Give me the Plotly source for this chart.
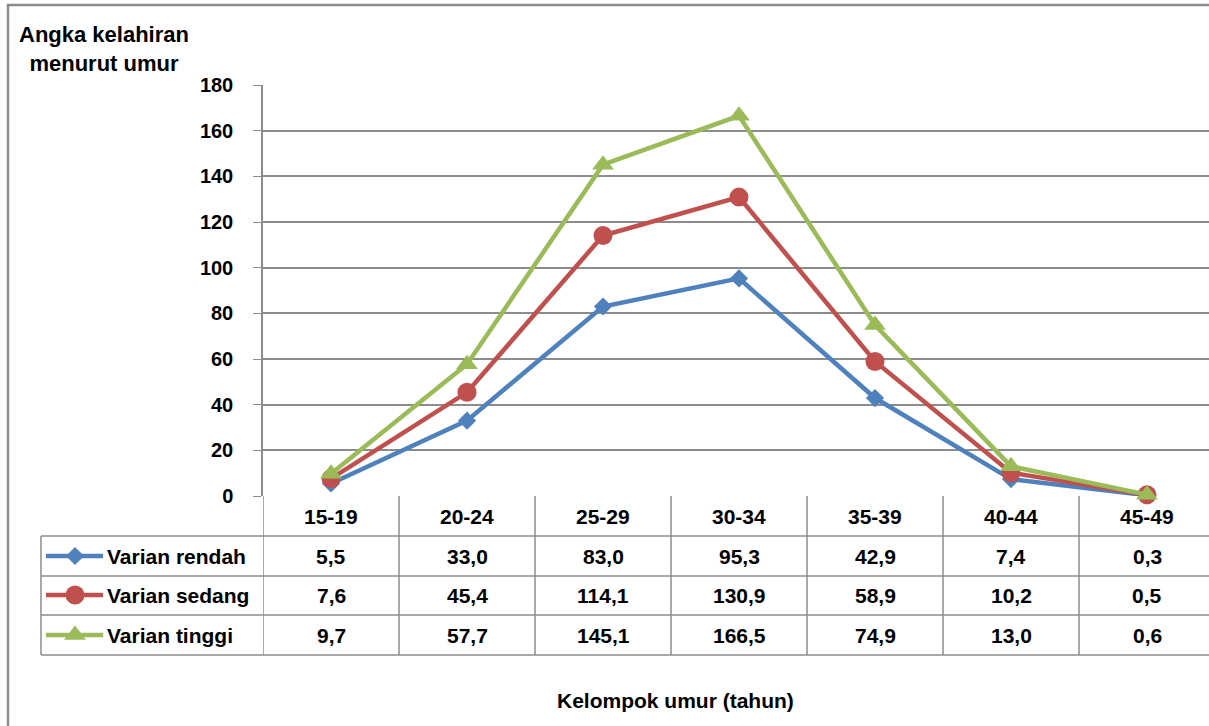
"""Angka kelahiran menurut umur - line chart with Excel-style data table."""
import plotly.graph_objects as go

W, H = 1209, 726

kelompok_umur = ["15-19", "20-24", "25-29", "30-34", "35-39", "40-44", "45-49"]
varian_rendah = [5.5, 33.0, 83.0, 95.3, 42.9, 7.4, 0.3]
varian_sedang = [7.6, 45.4, 114.1, 130.9, 58.9, 10.2, 0.5]
varian_tinggi = [9.7, 57.7, 145.1, 166.5, 74.9, 13.0, 0.6]
y_ticks = [0, 20, 40, 60, 80, 100, 120, 140, 160, 180]

series = [
    ("Varian rendah", varian_rendah, "#4F81BD", "diamond", 14),
    ("Varian sedang", varian_sedang, "#C0504D", "circle", 19),
    ("Varian tinggi", varian_tinggi, "#9BBB59", "triangle-up", 19),
]

FONT = "Liberation Sans, Arial, sans-serif"
GRID = "#8C8C8C"


def px(x):
    return x / W


def py(y):
    return 1 - y / H


# plot area in pixels
X0, X1 = 263, W
Y_TOP, Y_ZERO = 85, 496
COL_W = 136
row_mid = [516, 556, 595, 635]
row_lines = [536, 576, 615, 655]

fig = go.Figure()

idx = list(range(len(kelompok_umur)))
for name, vals, color, symbol, size in series:
    fig.add_trace(go.Scatter(
        x=idx, y=vals, name=name, mode="lines+markers",
        line=dict(color=color, width=4.5),
        marker=dict(symbol=symbol, size=size, color=color),
        showlegend=False, cliponaxis=False,
    ))

shapes = []
annotations = []
bold = dict(color="black", weight="bold")

# table: horizontal lines
for yl in row_lines:
    shapes.append(dict(type="line", xref="paper", yref="paper",
                       x0=px(41), x1=1, y0=py(yl), y1=py(yl),
                       line=dict(color=GRID, width=1.5)))
# table: left border
shapes.append(dict(type="line", xref="paper", yref="paper",
                   x0=px(41), x1=px(41), y0=py(536), y1=py(655),
                   line=dict(color=GRID, width=1.5)))
# table: column separators
for k in range(len(kelompok_umur)):
    shapes.append(dict(type="line", xref="x", yref="paper",
                       x0=k - 0.5, x1=k - 0.5, y0=py(Y_ZERO), y1=py(655),
                       line=dict(color=GRID, width=1.5)))

# header labels
for k, lab in enumerate(kelompok_umur):
    annotations.append(dict(x=k, y=py(row_mid[0]), xref="x", yref="paper",
                            text=lab, showarrow=False, xanchor="center",
                            yanchor="middle", font=dict(size=21, **bold)))

# value rows + legend keys
for r, (name, vals, color, symbol, size) in enumerate(series):
    yc = py(row_mid[r + 1])
    annotations.append(dict(x=px(105), y=yc, xref="paper", yref="paper",
                            text=name, showarrow=False, xanchor="left",
                            yanchor="middle", font=dict(size=21, **bold)))
    for k, v in enumerate(vals):
        annotations.append(dict(x=k, y=yc, xref="x", yref="paper",
                                text=f"{v:.1f}".replace(".", ","),
                                showarrow=False, xanchor="center",
                                yanchor="middle", font=dict(size=21, **bold)))
    fig.add_trace(go.Scatter(
        x=[px(46), px(75), px(103)], y=[yc, yc, yc],
        xaxis="x2", yaxis="y2", mode="lines",
        line=dict(color=color, width=4.5), showlegend=False,
        hoverinfo="skip",
    ))
    fig.add_trace(go.Scatter(
        x=[px(75)], y=[yc], xaxis="x2", yaxis="y2", mode="markers",
        marker=dict(symbol=symbol, size=size, color=color),
        showlegend=False, hoverinfo="skip",
    ))

# titles
annotations.append(dict(x=px(104), y=py(20), xref="paper", yref="paper",
                        text="Angka kelahiran<br>menurut umur",
                        showarrow=False, xanchor="center", yanchor="top",
                        align="center", font=dict(size=22, **bold)))
annotations.append(dict(x=px(675), y=py(700), xref="paper", yref="paper",
                        text="Kelompok umur (tahun)", showarrow=False,
                        xanchor="center", yanchor="middle",
                        font=dict(size=21, **bold)))

# outer frame
shapes.append(dict(type="rect", xref="paper", yref="paper",
                   x0=px(8), x1=1.05, y0=-0.05, y1=py(5),
                   line=dict(color="#8C8C8C", width=2.5)))

fig.update_layout(
    width=W, height=H,
    margin=dict(l=0, r=0, t=0, b=0, autoexpand=False),
    paper_bgcolor="white", plot_bgcolor="rgba(0,0,0,0)",
    font=dict(family=FONT, size=20, color="black"),
    shapes=shapes, annotations=annotations,
    xaxis=dict(domain=[px(X0), px(X1)],
               range=[-0.5, -0.5 + (X1 - X0) / COL_W],
               showticklabels=False, showgrid=False, zeroline=False,
               ticks="", automargin=False),
    yaxis=dict(domain=[py(Y_ZERO), py(Y_TOP)], range=[0, 180],
               tickvals=y_ticks, ticks="outside", ticklen=8,
               tickcolor=GRID, ticklabelstandoff=16,
               showgrid=True, gridcolor=GRID, gridwidth=1.5,
               showline=True, linecolor=GRID, linewidth=1.5,
               zeroline=False, automargin=False,
               tickfont=dict(size=20, weight="bold")),
    xaxis2=dict(domain=[0, 1], range=[0, 1], visible=False,
                anchor="y2", automargin=False),
    yaxis2=dict(domain=[0, 1], range=[0, 1], visible=False,
                anchor="x2", automargin=False),
)

fig.write_html("out.html", config={"displayModeBar": False},
               post_script="document.body.style.margin='0';")
